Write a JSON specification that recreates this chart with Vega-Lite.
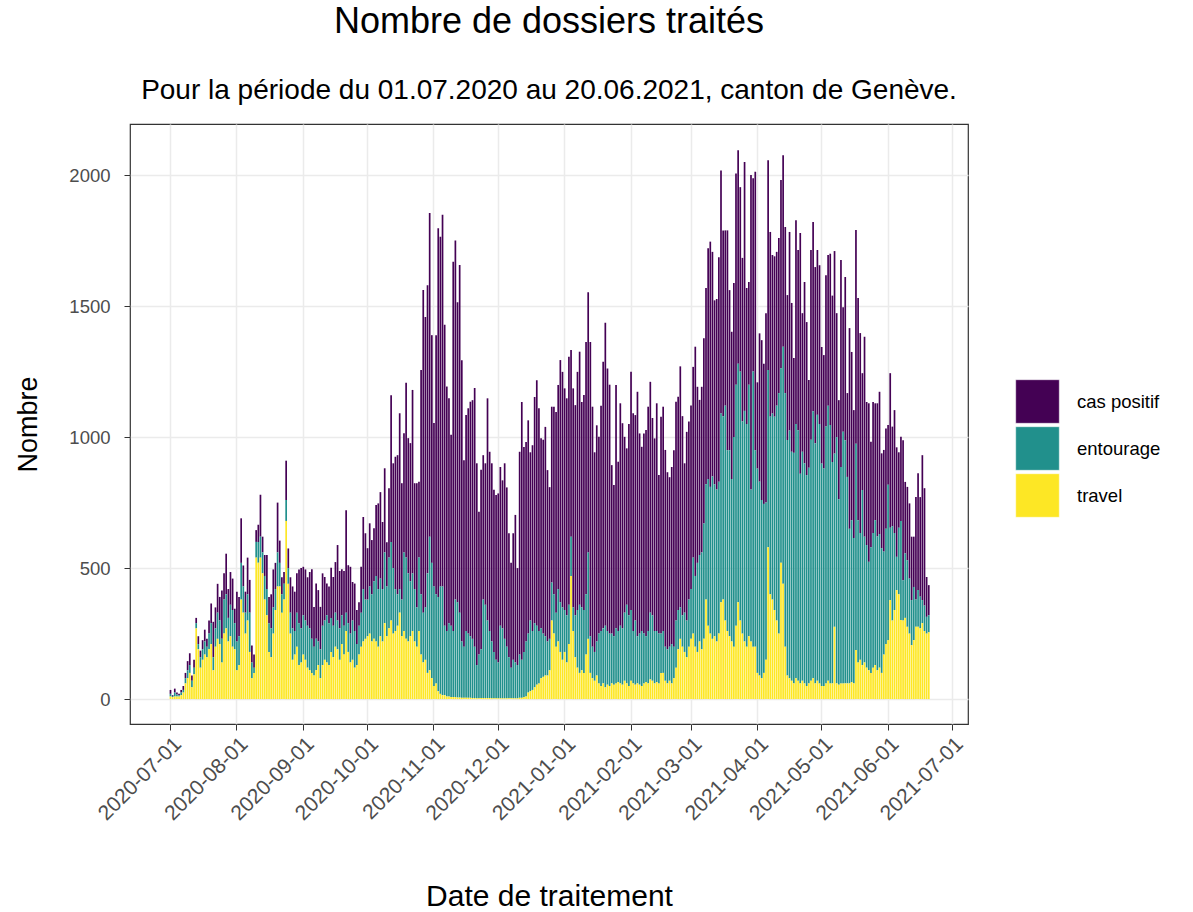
{
"$schema": "https://vega.github.io/schema/vega-lite/v6.json",
"width": 838, "height": 600,
"autosize": {"type": "none"},
"padding": {"left": 130, "top": 124, "right": 225, "bottom": 188},
"background": "white",
"config": {"font": "Liberation Sans", "view": {"stroke": "#333333", "strokeWidth": 1.2}},
"title": {"text": "Nombre de dossiers traités", "subtitle": "Pour la période du 01.07.2020 au 20.06.2021, canton de Genève.", "fontSize": 36, "subtitleFontSize": 28, "fontWeight": "normal", "color": "black", "subtitleColor": "black", "anchor": "middle", "frame": "group", "offset": 18, "subtitlePadding": 36},
"data": {"values": [
{"d":"2020-07-01","c":15,"e":10,"t":10},{"d":"2020-07-02","c":3,"e":4,"t":8},{"d":"2020-07-03","c":15,"e":15,"t":10},{"d":"2020-07-04","c":7,"e":8,"t":10},{"d":"2020-07-05","c":5,"e":5,"t":10},{"d":"2020-07-06","c":10,"e":10,"t":15},{"d":"2020-07-07","c":15,"e":10,"t":25},{"d":"2020-07-08","c":20,"e":20,"t":60},{"d":"2020-07-09","c":35,"e":30,"t":80},{"d":"2020-07-10","c":45,"e":30,"t":100},{"d":"2020-07-11","c":20,"e":25,"t":45},{"d":"2020-07-12","c":30,"e":25,"t":95},{"d":"2020-07-13","c":20,"e":20,"t":270},{"d":"2020-07-14","c":30,"e":20,"t":190},{"d":"2020-07-15","c":25,"e":40,"t":120},{"d":"2020-07-16","c":35,"e":40,"t":150},{"d":"2020-07-17","c":45,"e":50,"t":170},{"d":"2020-07-18","c":30,"e":40,"t":160},{"d":"2020-07-19","c":50,"e":60,"t":190},{"d":"2020-07-20","c":75,"e":80,"t":210},{"d":"2020-07-21","c":135,"e":50,"t":110},{"d":"2020-07-22","c":80,"e":70,"t":200},{"d":"2020-07-23","c":110,"e":100,"t":230},{"d":"2020-07-24","c":90,"e":90,"t":210},{"d":"2020-07-25","c":185,"e":90,"t":140},{"d":"2020-07-26","c":100,"e":130,"t":250},{"d":"2020-07-27","c":155,"e":130,"t":270},{"d":"2020-07-28","c":110,"e":90,"t":220},{"d":"2020-07-29","c":125,"e":120,"t":240},{"d":"2020-07-30","c":120,"e":140,"t":200},{"d":"2020-07-31","c":55,"e":100,"t":190},
{"d":"2020-08-01","c":190,"e":110,"t":110},{"d":"2020-08-02","c":150,"e":110,"t":130},{"d":"2020-08-03","c":170,"e":140,"t":380},{"d":"2020-08-04","c":80,"e":100,"t":330},{"d":"2020-08-05","c":80,"e":80,"t":250},{"d":"2020-08-06","c":140,"e":100,"t":300},{"d":"2020-08-07","c":125,"e":150,"t":180},{"d":"2020-08-08","c":65,"e":60,"t":80},{"d":"2020-08-09","c":50,"e":20,"t":100},{"d":"2020-08-10","c":45,"e":60,"t":540},{"d":"2020-08-11","c":65,"e":80,"t":520},{"d":"2020-08-12","c":160,"e":80,"t":540},{"d":"2020-08-13","c":60,"e":80,"t":480},{"d":"2020-08-14","c":80,"e":90,"t":380},{"d":"2020-08-15","c":130,"e":100,"t":320},{"d":"2020-08-16","c":100,"e":110,"t":180},{"d":"2020-08-17","c":130,"e":110,"t":160},{"d":"2020-08-18","c":145,"e":100,"t":250},{"d":"2020-08-19","c":100,"e":80,"t":340},{"d":"2020-08-20","c":190,"e":130,"t":430},{"d":"2020-08-21","c":85,"e":90,"t":430},{"d":"2020-08-22","c":65,"e":70,"t":330},{"d":"2020-08-23","c":45,"e":60,"t":380},{"d":"2020-08-24","c":150,"e":80,"t":680},{"d":"2020-08-25","c":75,"e":60,"t":440},{"d":"2020-08-26","c":135,"e":80,"t":250},{"d":"2020-08-27","c":160,"e":120,"t":150},{"d":"2020-08-28","c":150,"e":90,"t":170},{"d":"2020-08-29","c":150,"e":130,"t":200},{"d":"2020-08-30","c":205,"e":160,"t":130},{"d":"2020-08-31","c":230,"e":130,"t":140},
{"d":"2020-09-01","c":185,"e":150,"t":170},{"d":"2020-09-02","c":195,"e":150,"t":150},{"d":"2020-09-03","c":185,"e":160,"t":120},{"d":"2020-09-04","c":215,"e":160,"t":110},{"d":"2020-09-05","c":266,"e":130,"t":100},{"d":"2020-09-06","c":152,"e":110,"t":90},{"d":"2020-09-07","c":211,"e":120,"t":110},{"d":"2020-09-08","c":196,"e":90,"t":130},{"d":"2020-09-09","c":162,"e":110,"t":80},{"d":"2020-09-10","c":200,"e":150,"t":130},{"d":"2020-09-11","c":166,"e":150,"t":150},{"d":"2020-09-12","c":121,"e":180,"t":140},{"d":"2020-09-13","c":140,"e":160,"t":130},{"d":"2020-09-14","c":191,"e":130,"t":180},{"d":"2020-09-15","c":186,"e":120,"t":160},{"d":"2020-09-16","c":193,"e":130,"t":200},{"d":"2020-09-17","c":288,"e":110,"t":190},{"d":"2020-09-18","c":219,"e":120,"t":150},{"d":"2020-09-19","c":176,"e":110,"t":210},{"d":"2020-09-20","c":209,"e":110,"t":170},{"d":"2020-09-21","c":391,"e":70,"t":260},{"d":"2020-09-22","c":221,"e":110,"t":180},{"d":"2020-09-23","c":255,"e":110,"t":140},{"d":"2020-09-24","c":147,"e":150,"t":150},{"d":"2020-09-25","c":181,"e":140,"t":120},{"d":"2020-09-26","c":130,"e":80,"t":130},{"d":"2020-09-27","c":90,"e":110,"t":170},{"d":"2020-09-28","c":175,"e":130,"t":200},{"d":"2020-09-29","c":275,"e":200,"t":220},{"d":"2020-09-30","c":253,"e":150,"t":230},
{"d":"2020-10-01","c":196,"e":140,"t":240},{"d":"2020-10-02","c":241,"e":180,"t":250},{"d":"2020-10-03","c":207,"e":180,"t":220},{"d":"2020-10-04","c":202,"e":220,"t":230},{"d":"2020-10-05","c":271,"e":250,"t":220},{"d":"2020-10-06","c":327,"e":220,"t":200},{"d":"2020-10-07","c":330,"e":220,"t":240},{"d":"2020-10-08","c":256,"e":200,"t":220},{"d":"2020-10-09","c":321,"e":270,"t":290},{"d":"2020-10-10","c":169,"e":190,"t":240},{"d":"2020-10-11","c":265,"e":270,"t":270},{"d":"2020-10-12","c":560,"e":300,"t":300},{"d":"2020-10-13","c":400,"e":250,"t":250},{"d":"2020-10-14","c":505,"e":160,"t":260},{"d":"2020-10-15","c":531,"e":120,"t":280},{"d":"2020-10-16","c":671,"e":90,"t":330},{"d":"2020-10-17","c":444,"e":140,"t":240},{"d":"2020-10-18","c":455,"e":300,"t":260},{"d":"2020-10-19","c":667,"e":310,"t":230},{"d":"2020-10-20","c":516,"e":260,"t":220},{"d":"2020-10-21","c":527,"e":210,"t":240},{"d":"2020-10-22","c":700,"e":220,"t":260},{"d":"2020-10-23","c":404,"e":200,"t":220},{"d":"2020-10-24","c":474,"e":150,"t":200},{"d":"2020-10-25","c":290,"e":280,"t":260},{"d":"2020-10-26","c":856,"e":230,"t":170},{"d":"2020-10-27","c":1231,"e":190,"t":140},{"d":"2020-10-28","c":1108,"e":200,"t":150},{"d":"2020-10-29","c":1100,"e":380,"t":100},{"d":"2020-10-30","c":1235,"e":510,"t":110},{"d":"2020-10-31","c":869,"e":440,"t":80},
{"d":"2020-11-01","c":624,"e":380,"t":50},{"d":"2020-11-02","c":989,"e":340,"t":60},{"d":"2020-11-03","c":1407,"e":360,"t":30},{"d":"2020-11-04","c":1335,"e":410,"t":20},{"d":"2020-11-05","c":1419,"e":415,"t":15},{"d":"2020-11-06","c":1149,"e":265,"t":15},{"d":"2020-11-07","c":933,"e":250,"t":10},{"d":"2020-11-08","c":858,"e":280,"t":10},{"d":"2020-11-09","c":729,"e":272,"t":8},{"d":"2020-11-10","c":1409,"e":252,"t":8},{"d":"2020-11-11","c":1370,"e":372,"t":8},{"d":"2020-11-12","c":1145,"e":364,"t":6},{"d":"2020-11-13","c":1327,"e":324,"t":6},{"d":"2020-11-14","c":1073,"e":215,"t":5},{"d":"2020-11-15","c":712,"e":195,"t":5},{"d":"2020-11-16","c":824,"e":255,"t":5},{"d":"2020-11-17","c":860,"e":245,"t":5},{"d":"2020-11-18","c":895,"e":235,"t":5},{"d":"2020-11-19","c":911,"e":226,"t":4},{"d":"2020-11-20","c":987,"e":196,"t":4},{"d":"2020-11-21","c":770,"e":127,"t":3},{"d":"2020-11-22","c":545,"e":167,"t":3},{"d":"2020-11-23","c":685,"e":186,"t":4},{"d":"2020-11-24","c":551,"e":376,"t":4},{"d":"2020-11-25","c":540,"e":356,"t":4},{"d":"2020-11-26","c":848,"e":296,"t":4},{"d":"2020-11-27","c":684,"e":256,"t":4},{"d":"2020-11-28","c":680,"e":217,"t":3},{"d":"2020-11-29","c":619,"e":177,"t":3},{"d":"2020-11-30","c":629,"e":147,"t":3},
{"d":"2020-12-01","c":645,"e":137,"t":3},{"d":"2020-12-02","c":606,"e":277,"t":3},{"d":"2020-12-03","c":565,"e":267,"t":3},{"d":"2020-12-04","c":670,"e":227,"t":3},{"d":"2020-12-05","c":608,"e":197,"t":3},{"d":"2020-12-06","c":473,"e":157,"t":3},{"d":"2020-12-07","c":400,"e":117,"t":3},{"d":"2020-12-08","c":483,"e":147,"t":3},{"d":"2020-12-09","c":563,"e":137,"t":3},{"d":"2020-12-10","c":370,"e":127,"t":3},{"d":"2020-12-11","c":774,"e":165,"t":5},{"d":"2020-12-12","c":984,"e":145,"t":5},{"d":"2020-12-13","c":782,"e":172,"t":8},{"d":"2020-12-14","c":761,"e":210,"t":10},{"d":"2020-12-15","c":814,"e":225,"t":25},{"d":"2020-12-16","c":642,"e":270,"t":30},{"d":"2020-12-17","c":709,"e":225,"t":35},{"d":"2020-12-18","c":863,"e":245,"t":45},{"d":"2020-12-19","c":937,"e":225,"t":55},{"d":"2020-12-20","c":850,"e":200,"t":60},{"d":"2020-12-21","c":726,"e":190,"t":80},{"d":"2020-12-22","c":740,"e":165,"t":85},{"d":"2020-12-23","c":799,"e":150,"t":90},{"d":"2020-12-24","c":654,"e":130,"t":90},{"d":"2020-12-25","c":579,"e":120,"t":110},{"d":"2020-12-26","c":671,"e":145,"t":300},{"d":"2020-12-27","c":716,"e":150,"t":250},{"d":"2020-12-28","c":766,"e":130,"t":200},{"d":"2020-12-29","c":779,"e":200,"t":220},{"d":"2020-12-30","c":924,"e":190,"t":180},{"d":"2020-12-31","c":899,"e":200,"t":150},
{"d":"2021-01-01","c":846,"e":160,"t":180},{"d":"2021-01-02","c":828,"e":180,"t":140},{"d":"2021-01-03","c":947,"e":150,"t":210},{"d":"2021-01-04","c":712,"e":150,"t":470},{"d":"2021-01-05","c":836,"e":90,"t":260},{"d":"2021-01-06","c":802,"e":160,"t":160},{"d":"2021-01-07","c":909,"e":220,"t":120},{"d":"2021-01-08","c":966,"e":260,"t":100},{"d":"2021-01-09","c":784,"e":240,"t":110},{"d":"2021-01-10","c":821,"e":240,"t":100},{"d":"2021-01-11","c":963,"e":230,"t":170},{"d":"2021-01-12","c":993,"e":330,"t":230},{"d":"2021-01-13","c":1123,"e":140,"t":100},{"d":"2021-01-14","c":916,"e":120,"t":80},{"d":"2021-01-15","c":762,"e":110,"t":70},{"d":"2021-01-16","c":825,"e":130,"t":90},{"d":"2021-01-17","c":751,"e":190,"t":60},{"d":"2021-01-18","c":860,"e":210,"t":50},{"d":"2021-01-19","c":1018,"e":210,"t":60},{"d":"2021-01-20","c":1156,"e":235,"t":45},{"d":"2021-01-21","c":1002,"e":205,"t":55},{"d":"2021-01-22","c":950,"e":200,"t":50},{"d":"2021-01-23","c":643,"e":190,"t":60},{"d":"2021-01-24","c":577,"e":185,"t":55},{"d":"2021-01-25","c":929,"e":210,"t":60},{"d":"2021-01-26","c":646,"e":195,"t":65},{"d":"2021-01-27","c":849,"e":220,"t":60},{"d":"2021-01-28","c":783,"e":215,"t":55},{"d":"2021-01-29","c":671,"e":260,"t":70},{"d":"2021-01-30","c":597,"e":300,"t":60},{"d":"2021-01-31","c":730,"e":270,"t":50},
{"d":"2021-02-01","c":909,"e":270,"t":70},{"d":"2021-02-02","c":831,"e":200,"t":60},{"d":"2021-02-03","c":784,"e":245,"t":55},{"d":"2021-02-04","c":933,"e":180,"t":60},{"d":"2021-02-05","c":764,"e":195,"t":55},{"d":"2021-02-06","c":703,"e":210,"t":50},{"d":"2021-02-07","c":764,"e":190,"t":60},{"d":"2021-02-08","c":787,"e":175,"t":65},{"d":"2021-02-09","c":856,"e":200,"t":60},{"d":"2021-02-10","c":881,"e":255,"t":75},{"d":"2021-02-11","c":753,"e":250,"t":70},{"d":"2021-02-12","c":735,"e":200,"t":60},{"d":"2021-02-13","c":869,"e":195,"t":65},{"d":"2021-02-14","c":605,"e":190,"t":60},{"d":"2021-02-15","c":828,"e":150,"t":100},{"d":"2021-02-16","c":856,"e":160,"t":100},{"d":"2021-02-17","c":751,"e":130,"t":70},{"d":"2021-02-18","c":676,"e":130,"t":60},{"d":"2021-02-19","c":647,"e":130,"t":70},{"d":"2021-02-20","c":676,"e":150,"t":60},{"d":"2021-02-21","c":750,"e":120,"t":80},{"d":"2021-02-22","c":835,"e":180,"t":120},{"d":"2021-02-23","c":814,"e":150,"t":190},{"d":"2021-02-24","c":920,"e":120,"t":230},{"d":"2021-02-25","c":760,"e":120,"t":200},{"d":"2021-02-26","c":570,"e":150,"t":180},{"d":"2021-02-27","c":720,"e":140,"t":160},{"d":"2021-02-28","c":680,"e":180,"t":200},
{"d":"2021-03-01","c":701,"e":190,"t":230},{"d":"2021-03-02","c":728,"e":290,"t":250},{"d":"2021-03-03","c":875,"e":270,"t":200},{"d":"2021-03-04","c":672,"e":340,"t":180},{"d":"2021-03-05","c":592,"e":330,"t":220},{"d":"2021-03-06","c":632,"e":370,"t":190},{"d":"2021-03-07","c":707,"e":440,"t":230},{"d":"2021-03-08","c":749,"e":440,"t":380},{"d":"2021-03-09","c":881,"e":560,"t":280},{"d":"2021-03-10","c":936,"e":560,"t":250},{"d":"2021-03-11","c":857,"e":620,"t":230},{"d":"2021-03-12","c":702,"e":580,"t":240},{"d":"2021-03-13","c":727,"e":580,"t":220},{"d":"2021-03-14","c":856,"e":580,"t":250},{"d":"2021-03-15","c":928,"e":720,"t":370},{"d":"2021-03-16","c":709,"e":700,"t":380},{"d":"2021-03-17","c":669,"e":820,"t":300},{"d":"2021-03-18","c":839,"e":690,"t":260},{"d":"2021-03-19","c":611,"e":710,"t":240},{"d":"2021-03-20","c":562,"e":620,"t":220},{"d":"2021-03-21","c":588,"e":800,"t":200},{"d":"2021-03-22","c":806,"e":920,"t":280},{"d":"2021-03-23","c":815,"e":910,"t":370},{"d":"2021-03-24","c":704,"e":950,"t":300},{"d":"2021-03-25","c":624,"e":810,"t":250},{"d":"2021-03-26","c":950,"e":880,"t":220},{"d":"2021-03-27","c":519,"e":850,"t":200},{"d":"2021-03-28","c":392,"e":960,"t":240},{"d":"2021-03-29","c":1200,"e":580,"t":220},{"d":"2021-03-30","c":738,"e":1050,"t":200},{"d":"2021-03-31","c":1063,"e":750,"t":200},
{"d":"2021-04-01","c":329,"e":780,"t":100},{"d":"2021-04-02","c":566,"e":740,"t":90},{"d":"2021-04-03","c":610,"e":680,"t":80},{"d":"2021-04-04","c":535,"e":645,"t":100},{"d":"2021-04-05","c":723,"e":600,"t":150},{"d":"2021-04-06","c":801,"e":676,"t":580},{"d":"2021-04-07","c":705,"e":678,"t":400},{"d":"2021-04-08","c":605,"e":710,"t":380},{"d":"2021-04-09","c":612,"e":738,"t":340},{"d":"2021-04-10","c":587,"e":820,"t":300},{"d":"2021-04-11","c":592,"e":918,"t":250},{"d":"2021-04-12","c":718,"e":743,"t":520},{"d":"2021-04-13","c":731,"e":905,"t":440},{"d":"2021-04-14","c":634,"e":968,"t":200},{"d":"2021-04-15","c":553,"e":899,"t":90},{"d":"2021-04-16","c":758,"e":945,"t":80},{"d":"2021-04-17","c":568,"e":874,"t":70},{"d":"2021-04-18","c":362,"e":880,"t":60},{"d":"2021-04-19","c":778,"e":970,"t":80},{"d":"2021-04-20","c":688,"e":956,"t":70},{"d":"2021-04-21","c":919,"e":800,"t":60},{"d":"2021-04-22","c":529,"e":874,"t":70},{"d":"2021-04-23","c":692,"e":840,"t":60},{"d":"2021-04-24","c":584,"e":805,"t":50},{"d":"2021-04-25","c":335,"e":823,"t":60},{"d":"2021-04-26","c":724,"e":920,"t":70},{"d":"2021-04-27","c":722,"e":1019,"t":80},{"d":"2021-04-28","c":673,"e":916,"t":60},{"d":"2021-04-29","c":629,"e":1015,"t":70},{"d":"2021-04-30","c":606,"e":990,"t":60},
{"d":"2021-05-01","c":445,"e":849,"t":50},{"d":"2021-05-02","c":433,"e":830,"t":50},{"d":"2021-05-03","c":578,"e":980,"t":60},{"d":"2021-05-04","c":575,"e":1050,"t":70},{"d":"2021-05-05","c":654,"e":986,"t":60},{"d":"2021-05-06","c":635,"e":845,"t":60},{"d":"2021-05-07","c":773,"e":661,"t":276},{"d":"2021-05-08","c":473,"e":940,"t":60},{"d":"2021-05-09","c":378,"e":708,"t":55},{"d":"2021-05-10","c":790,"e":826,"t":60},{"d":"2021-05-11","c":476,"e":960,"t":60},{"d":"2021-05-12","c":623,"e":928,"t":60},{"d":"2021-05-13","c":320,"e":788,"t":60},{"d":"2021-05-14","c":766,"e":590,"t":60},{"d":"2021-05-15","c":642,"e":618,"t":65},{"d":"2021-05-16","c":488,"e":555,"t":60},{"d":"2021-05-17","c":815,"e":788,"t":187},{"d":"2021-05-18","c":848,"e":543,"t":140},{"d":"2021-05-19","c":763,"e":484,"t":150},{"d":"2021-05-20","c":446,"e":668,"t":130},{"d":"2021-05-21","c":763,"e":480,"t":140},{"d":"2021-05-22","c":546,"e":468,"t":120},{"d":"2021-05-23","c":605,"e":414,"t":110},{"d":"2021-05-24","c":402,"e":480,"t":100},{"d":"2021-05-25","c":500,"e":514,"t":120},{"d":"2021-05-26","c":446,"e":553,"t":130},{"d":"2021-05-27","c":508,"e":511,"t":110},{"d":"2021-05-28","c":543,"e":510,"t":120},{"d":"2021-05-29","c":362,"e":476,"t":100},{"d":"2021-05-30","c":388,"e":393,"t":170},{"d":"2021-05-31","c":383,"e":440,"t":210},
{"d":"2021-06-01","c":228,"e":593,"t":225},{"d":"2021-06-02","c":590,"e":276,"t":378},{"d":"2021-06-03","c":380,"e":360,"t":300},{"d":"2021-06-04","c":469,"e":294,"t":340},{"d":"2021-06-05","c":418,"e":127,"t":416},{"d":"2021-06-06","c":288,"e":254,"t":400},{"d":"2021-06-07","c":321,"e":378,"t":302},{"d":"2021-06-08","c":534,"e":154,"t":300},{"d":"2021-06-09","c":273,"e":246,"t":310},{"d":"2021-06-10","c":280,"e":254,"t":276},{"d":"2021-06-11","c":287,"e":210,"t":250},{"d":"2021-06-12","c":242,"e":172,"t":206},{"d":"2021-06-13","c":192,"e":203,"t":225},{"d":"2021-06-14","c":391,"e":104,"t":276},{"d":"2021-06-15","c":446,"e":140,"t":276},{"d":"2021-06-16","c":380,"e":121,"t":270},{"d":"2021-06-17","c":553,"e":88,"t":290},{"d":"2021-06-18","c":448,"e":97,"t":260},{"d":"2021-06-19","c":152,"e":64,"t":250},{"d":"2021-06-20","c":115,"e":65,"t":255}
]},
"transform": [{"fold": ["c", "e", "t"], "as": ["k", "n"]}],
"mark": {"type": "bar", "xOffset": -1.07, "binSpacing": 0.45},
"encoding": {
  "x": {"field": "d", "timeUnit": "utcyearmonthdate", "type": "temporal",
    "scale": {"type": "utc", "domain": [{"year": 2020, "month": 6, "date": 12, "hours": 8, "utc": true}, {"year": 2021, "month": 7, "date": 8, "hours": 13, "utc": true}]},
    "axis": {"title": "Date de traitement", "values": [{"year":2020,"month":7,"date":1,"utc":true},{"year":2020,"month":8,"date":1,"utc":true},{"year":2020,"month":9,"date":1,"utc":true},{"year":2020,"month":10,"date":1,"utc":true},{"year":2020,"month":11,"date":1,"utc":true},{"year":2020,"month":12,"date":1,"utc":true},{"year":2021,"month":1,"date":1,"utc":true},{"year":2021,"month":2,"date":1,"utc":true},{"year":2021,"month":3,"date":1,"utc":true},{"year":2021,"month":4,"date":1,"utc":true},{"year":2021,"month":5,"date":1,"utc":true},{"year":2021,"month":6,"date":1,"utc":true},{"year":2021,"month":7,"date":1,"utc":true}],
      "labelExpr": "utcFormat(datum.value, '%Y-%m-%d')", "labelAngle": -45, "labelAlign": "right", "labelBaseline": "top", "labelFontSize": 21, "labelColor": "#4D4D4D", "labelPadding": 3, "labelOverlap": false,
      "tickColor": "#333333", "tickSize": 6, "domain": false, "gridColor": "#EBEBEB", "gridWidth": 1.5,
      "titleFontSize": 30, "titleFontWeight": "normal", "titleColor": "black", "titleY": 172, "titleBaseline": "middle"}},
  "y": {"field": "n", "type": "quantitative", "stack": "zero",
    "scale": {"domain": [-95, 2195], "nice": false, "zero": false},
    "axis": {"title": "Nombre", "values": [0, 500, 1000, 1500, 2000], "format": "d", "labelFontSize": 18.5, "labelColor": "#4D4D4D", "labelPadding": 14,
      "tickColor": "#333333", "tickSize": 6, "domain": false, "gridColor": "#EBEBEB", "gridWidth": 1.5,
      "titleFontSize": 27, "titleFontWeight": "normal", "titleColor": "black", "titleX": -102, "titleY": 300, "titleBaseline": "middle"}},
  "color": {"field": "k", "type": "nominal",
    "scale": {"domain": ["c", "e", "t"], "range": ["#440154", "#21908C", "#FDE725"]},
    "legend": {"title": null, "orient": "none", "legendX": 885, "legendY": 255, "symbolType": "square", "symbolSize": 1900, "symbolStrokeColor": "white", "symbolStrokeWidth": 0.5, "symbolOpacity": 1, "labelFontSize": 18.5, "labelColor": "black", "rowPadding": 0, "labelOffset": 17,
      "labelExpr": "{'c': 'cas positif', 'e': 'entourage', 't': 'travel'}[datum.label]"}},
  "order": {"field": "k", "sort": "descending"}
}
}
